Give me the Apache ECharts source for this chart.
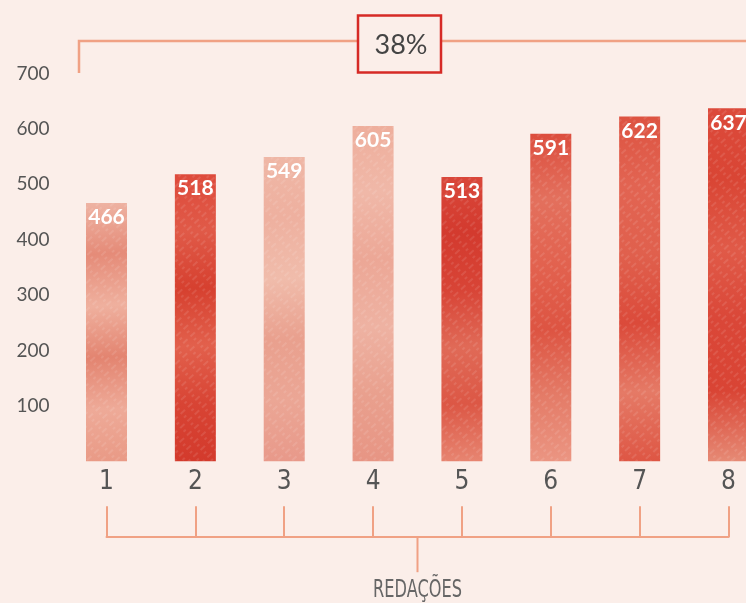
<!DOCTYPE html>
<html>
<head>
<meta charset="utf-8">
<script src="https://cdn.jsdelivr.net/npm/echarts@6/dist/echarts.min.js"></script>
<style>
html,body{margin:0;padding:0;background:#fbeee9;}
#chart{width:746px;height:603px;}
</style>
</head>
<body>
<div id="chart"></div>
<script>
const categories = ['1','2','3','4','5','6','7','8'];
const values = [466, 518, 549, 605, 513, 591, 622, 637];
const yTicks = [0, 100, 200, 300, 400, 500, 600, 700];
const axisName = 'REDAÇÕES';
const headline = '38%';

// watercolor-like palettes per bar (light / dark tones)
const palettes = [
  ['#eeb3a3','#e58b78','#efb09e','#e38470','#eeaa98','#e99a86'],
  ['#de4a3b','#e05a48','#d6402f','#e2604c','#d84434','#d33a2c'],
  ['#efb7a6','#eeb09f','#f0bcab','#e9a08e','#eba695','#e8998a'],
  ['#eeae9c','#f0b8a8','#eca796','#eeb2a2','#e9a08e','#e79584'],
  ['#d9473a','#d33a2e','#d84436','#e06a57','#dc5745','#e78470'],
  ['#dc4d3d','#e3705d','#e2624f','#dd5442','#e47b67','#eb9582'],
  ['#dd5341','#e26452','#e0604d','#db4a3a','#e57a66','#de5644'],
  ['#dc4a3b','#d94534','#e05a48','#da4738','#d94434','#e68a75']
];
function grad(p){
  const stops = p.map((c,i)=>({offset:i/(p.length-1), color:c}));
  return new echarts.graphic.LinearGradient(0,0,0.35,1,stops);
}
const condensed = "'DejaVu Sans Condensed','Liberation Sans Narrow',sans-serif";
const sans = "Lato,'Noto Sans',sans-serif";

const chart = echarts.init(document.getElementById('chart'), null, {renderer:'canvas'});
const bracketColor = '#f0a184';
const option = {
  backgroundColor:'#fbeee9',
  animation:false,
  grid:{left:106.5, right:17.5, top:73.4, bottom:141.8},
  xAxis:[{
    type:'category', data:categories, boundaryGap:false,
    axisLine:{show:false}, axisTick:{show:false},
    axisLabel:{color:'#555', fontSize:26, margin:8, fontFamily:condensed}
  },{
    type:'category', data:categories, boundaryGap:false, position:'bottom', offset:76,
    axisLine:{show:true, lineStyle:{color:bracketColor, width:2}},
    axisTick:{show:true, inside:true, length:31, lineStyle:{color:bracketColor, width:2}},
    axisLabel:{show:false}
  }],
  yAxis:{
    type:'value', min:yTicks[0], max:yTicks[yTicks.length-1], interval:100,
    splitLine:{show:false}, axisLine:{show:false}, axisTick:{show:false},
    axisLabel:{color:'#555', fontSize:19, margin:57, showMinLabel:false, padding:[6,0,0,0],
      fontFamily:sans}
  },
  series:[{
    type:'bar', xAxisIndex:0, barWidth:41, clip:false,
    data: values.map((v,i)=>({value:v, itemStyle:{color:grad(palettes[i]),
      decal:{symbol:'rect', color:'rgba(255,255,255,0.10)', rotation:-0.75,
        dashArrayX:[[6,4],[3,7]], dashArrayY:[2,3], symbolSize:1}}})),
    label:{show:true, position:'insideTop', distance:4, color:'#fff', fontSize:21,
      fontWeight:'bold', fontFamily:sans}
  }]
};
chart.setOption(option);

const p1 = chart.convertToPixel({gridIndex:0}, [categories[0], 0]);
const p8 = chart.convertToPixel({gridIndex:0}, [categories[categories.length-1], 0]);
const midX = (p1[0]+p8[0])/2;
const bracketY = p1[1] + 76;
chart.setOption({
  graphic:[
    {type:'line', shape:{x1:midX, y1:bracketY, x2:midX, y2:bracketY+35}, style:{stroke:bracketColor, lineWidth:2}},
    {type:'text', x:midX, y:bracketY+53, scaleX:0.72, style:{text:axisName, fill:'#666', fontSize:25,
      fontFamily:condensed, align:'center', verticalAlign:'middle'}},
    {type:'polyline', shape:{points:[[79,73],[79,41],[746,41]]}, style:{stroke:bracketColor, lineWidth:2.5, fill:null}},
    {type:'rect', shape:{x:358, y:15.5, width:83, height:57}, style:{fill:'#fbeee9', stroke:'#d62a26', lineWidth:2.5}},
    {type:'text', x:401, y:45, style:{text:headline, fill:'#444', fontSize:27,
      fontFamily:sans, align:'center', verticalAlign:'middle'}}
  ]
});
</script>
</body>
</html>
